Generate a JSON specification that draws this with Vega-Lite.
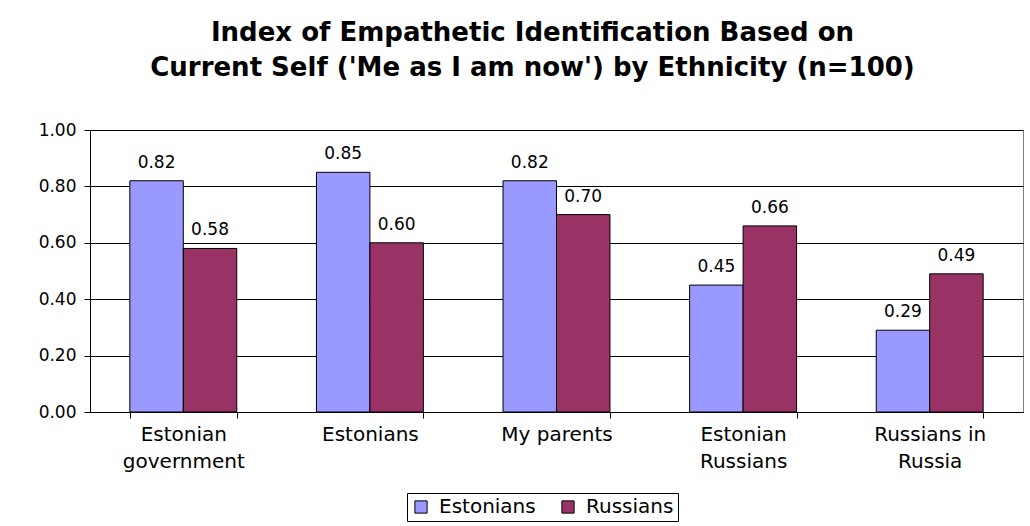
{
  "$schema": "https://vega.github.io/schema/vega-lite/v6.json",
  "width": 933,
  "height": 282,
  "autosize": "none",
  "padding": {"left": 90, "top": 130, "right": 7, "bottom": 114},
  "background": "white",
  "title": {
    "text": ["Index of Empathetic Identification Based on", "Current Self ('Me as I am now') by Ethnicity (n=100)"],
    "font": "DejaVu Sans",
    "fontSize": 26,
    "fontWeight": "bold",
    "lineHeight": 35,
    "anchor": "middle",
    "dx": -24,
    "offset": 40,
    "color": "black"
  },
  "data": {
    "values": [
      {"target": "Estonian|government", "group": "Estonians", "value": 0.82},
      {"target": "Estonian|government", "group": "Russians", "value": 0.58},
      {"target": "Estonians", "group": "Estonians", "value": 0.85},
      {"target": "Estonians", "group": "Russians", "value": 0.60},
      {"target": "My parents", "group": "Estonians", "value": 0.82},
      {"target": "My parents", "group": "Russians", "value": 0.70},
      {"target": "Estonian|Russians", "group": "Estonians", "value": 0.45},
      {"target": "Estonian|Russians", "group": "Russians", "value": 0.66},
      {"target": "Russians in|Russia", "group": "Estonians", "value": 0.29},
      {"target": "Russians in|Russia", "group": "Russians", "value": 0.49}
    ]
  },
  "encoding": {
    "x": {
      "field": "target",
      "type": "nominal",
      "sort": null,
      "scale": {"paddingInner": 0.427, "paddingOuter": 0.2135},
      "axis": {
        "title": null,
        "labelAngle": 0,
        "tickBand": "extent",
        "domainColor": "black",
        "tickColor": "black",
        "tickSize": 6,
        "labelFont": "DejaVu Sans",
        "labelFontSize": 20,
        "labelColor": "black",
        "labelPadding": 6,
        "labelLineHeight": 27,
        "labelExpr": "datum.value ? split(datum.value, '|') : ''"
      }
    },
    "xOffset": {"field": "group", "type": "nominal", "sort": ["Estonians", "Russians"]},
    "y": {
      "field": "value",
      "type": "quantitative",
      "scale": {"domain": [0, 1]},
      "axis": {
        "title": null,
        "values": [0, 0.2, 0.4, 0.6, 0.8, 1.0],
        "format": ".2f",
        "grid": true,
        "gridColor": "black",
        "gridWidth": 1,
        "domainColor": "black",
        "tickColor": "black",
        "tickSize": 6,
        "labelFont": "DejaVu Sans",
        "labelFontSize": 17,
        "labelColor": "black",
        "labelPadding": 8
      }
    }
  },
  "layer": [
    {
      "mark": {"type": "bar", "stroke": "black", "strokeWidth": 1},
      "encoding": {
        "color": {
          "field": "group",
          "type": "nominal",
          "sort": ["Estonians", "Russians"],
          "scale": {"range": ["#9999FF", "#993366"]},
          "legend": {
            "title": null,
            "orient": "none",
            "direction": "horizontal",
            "legendX": 317,
            "legendY": 363,
            "strokeColor": "black",
            "fillColor": "white",
            "padding": 4,
            "symbolType": "square",
            "symbolSize": 150,
            "symbolStrokeColor": "black",
            "symbolStrokeWidth": 1,
            "labelFont": "DejaVu Sans",
            "labelFontSize": 20,
            "labelColor": "black",
            "labelOffset": 8,
            "columnPadding": 22
          }
        }
      }
    },
    {
      "mark": {"type": "text", "baseline": "bottom", "dy": -9, "font": "DejaVu Sans", "fontSize": 17, "color": "black"},
      "encoding": {
        "text": {"field": "value", "type": "quantitative", "format": ".2f"}
      }
    }
  ],
  "config": {
    "view": {"stroke": "#808080", "strokeWidth": 1}
  }
}
